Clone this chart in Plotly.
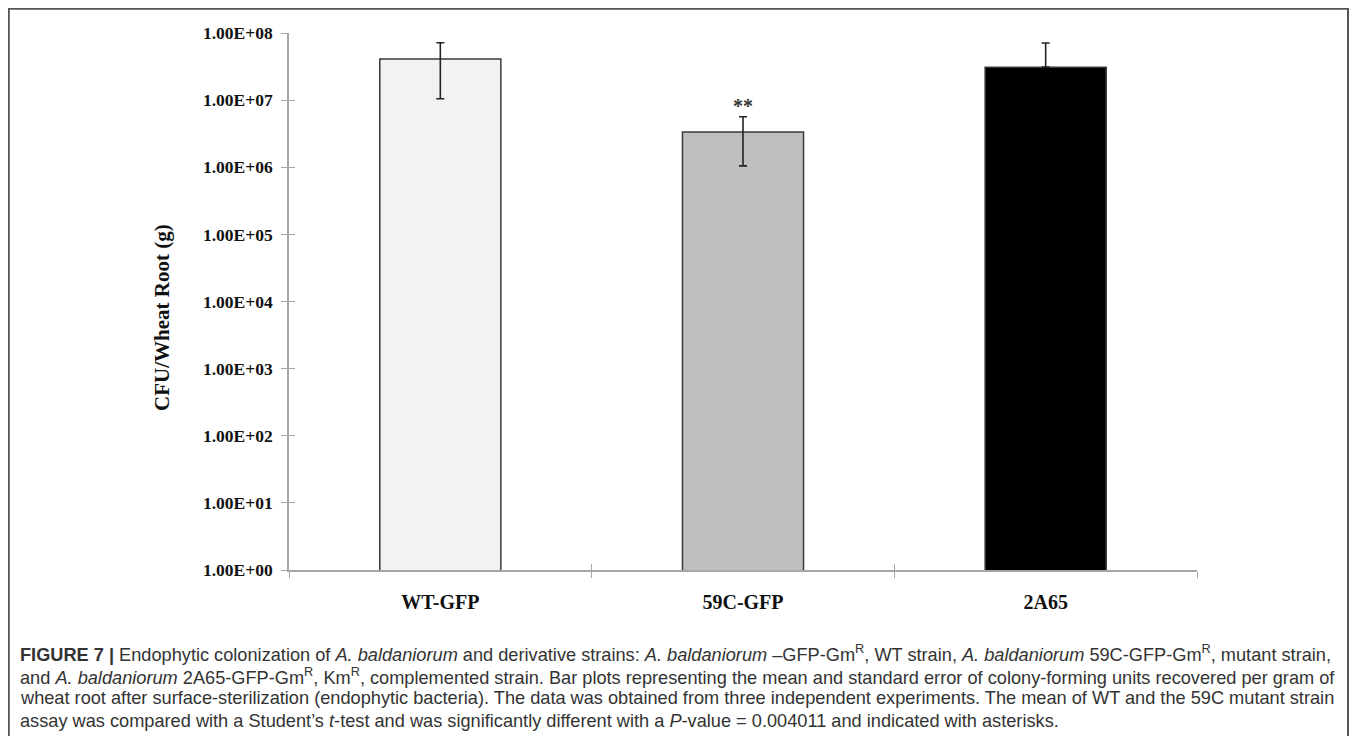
import plotly.graph_objects as go
import numpy as np

strains = ["WT-GFP", "59C-GFP", "2A65"]
cfu_mean = [4.1e7, 3.35e6, 3.1e7]
cfu_se = [3.05e7, 2.3e6, 4.0e7]
bar_colors = ["#f2f2f2", "#bfbfbf", "#000000"]
sig_marks = ["", "**", ""]
ytick_vals = [1e0, 1e1, 1e2, 1e3, 1e4, 1e5, 1e6, 1e7, 1e8]
ytick_text = ["1.00E+00", "1.00E+01", "1.00E+02", "1.00E+03", "1.00E+04",
              "1.00E+05", "1.00E+06", "1.00E+07", "1.00E+08"]

caption_lines = [
    "<b>FIGURE 7 |</b> Endophytic colonization of <i>A. baldaniorum</i> and derivative strains: <i>A. baldaniorum</i> –GFP-Gm<sup>R</sup>, WT strain, <i>A. baldaniorum</i> 59C-GFP-Gm<sup>R</sup>, mutant strain,",
    "and <i>A. baldaniorum</i> 2A65-GFP-Gm<sup>R</sup>, Km<sup>R</sup>, complemented strain. Bar plots representing the mean and standard error of colony-forming units recovered per gram of",
    "wheat root after surface-sterilization (endophytic bacteria). The data was obtained from three independent experiments. The mean of WT and the 59C mutant strain",
    "assay was compared with a Student’s <i>t</i>-test and was significantly different with a <i>P</i>-value = 0.004011 and indicated with asterisks.",
]

# page body has an 8px margin; work in reference pixel coords minus 8
OFF = 8
W, H = 1357 - 2 * OFF, 744 - 2 * OFF
L, R, T, B = 289 - OFF, 1197 - OFF, 33 - OFF, 570 - OFF
pw, ph = R - L, B - T


def px(x):
    return (x - OFF - L) / pw


def py(y):
    return (B - (y - OFF)) / ph


# lower error bar is not drawn when it would fall to zero or below on the log axis
err_minus = [e if m - e > 0 else 0 for m, e in zip(cfu_mean, cfu_se)]

fig = go.Figure()
fig.add_trace(go.Bar(
    x=strains, y=cfu_mean, width=0.4,
    marker=dict(color=bar_colors, line=dict(color="#3a3a3a", width=1.5)),
    error_y=dict(type="data", symmetric=False, array=cfu_se, arrayminus=err_minus,
                 visible=True, color="#222222", thickness=1.6, width=4),
    showlegend=False,
))
# invisible trace on overlay axes for inside ticks
fig.add_trace(go.Scatter(x=strains, y=cfu_mean, xaxis="x2", yaxis="y2",
                         mode="markers", marker=dict(opacity=0),
                         showlegend=False, hoverinfo="skip"))

serif = "Liberation Serif"
axis_col = "#a6a6a6"
fig.update_layout(
    width=W, height=H,
    margin=dict(l=L, r=W - R, t=T, b=H - B),
    paper_bgcolor="white", plot_bgcolor="white",
    xaxis=dict(type="category", showline=True, linecolor=axis_col, linewidth=1.5,
               ticks="outside", tickson="boundaries", ticklen=6, tickcolor=axis_col,
               tickwidth=1.2, showgrid=False, zeroline=False,
               tickfont=dict(family=serif, size=20, color="#111", weight="bold"),
               ticklabelstandoff=13, range=[-0.5, 2.5]),
    yaxis=dict(type="log", range=[0, 8], tickvals=ytick_vals, ticktext=ytick_text,
               showline=True, linecolor=axis_col, linewidth=1.5,
               ticks="outside", ticklen=6, tickcolor=axis_col, tickwidth=1.2,
               showgrid=False, zeroline=False,
               tickfont=dict(family=serif, size=17.5, color="#111", weight="bold"),
               ticklabelstandoff=5),
    xaxis2=dict(type="category", overlaying="x", range=[-0.5, 2.5],
                ticks="inside", tickson="boundaries", ticklen=6, tickcolor=axis_col,
                tickwidth=1.2, showticklabels=False, showgrid=False,
                zeroline=False, showline=False),
    yaxis2=dict(type="log", overlaying="y", range=[0, 8], tickvals=ytick_vals,
                ticks="inside", ticklen=6, tickcolor=axis_col, tickwidth=1.2,
                showticklabels=False, showgrid=False, zeroline=False, showline=False),
)

for s, m, e, t in zip(strains, cfu_mean, cfu_se, sig_marks):
    if t:
        fig.add_annotation(x=s, y=np.log10(m + e), text="<b>" + t + "</b>",
                           showarrow=False, yanchor="bottom", yshift=-2,
                           font=dict(family=serif, size=20, color="#333"))

fig.add_annotation(xref="paper", yref="paper", x=px(162), y=py(318),
                   xanchor="center", yanchor="middle",
                   text="<b>CFU/Wheat Root (g)</b>", textangle=-90, showarrow=False,
                   font=dict(family=serif, size=21, color="#111"))

for i, line in enumerate(caption_lines):
    fig.add_annotation(xref="paper", yref="paper", x=px(18), y=py(653 + 22.5 * i),
                       xanchor="left", yanchor="middle", text=line, showarrow=False,
                       align="left",
                       font=dict(family="Liberation Sans", size=18.2, color="#333"))

fig.add_shape(type="rect", xref="paper", yref="paper",
              x0=px(8.8), x1=px(1348), y0=py(800), y1=py(8.8),
              line=dict(color="#555", width=2), fillcolor="rgba(0,0,0,0)", layer="below")

fig.write_html("out.html")
